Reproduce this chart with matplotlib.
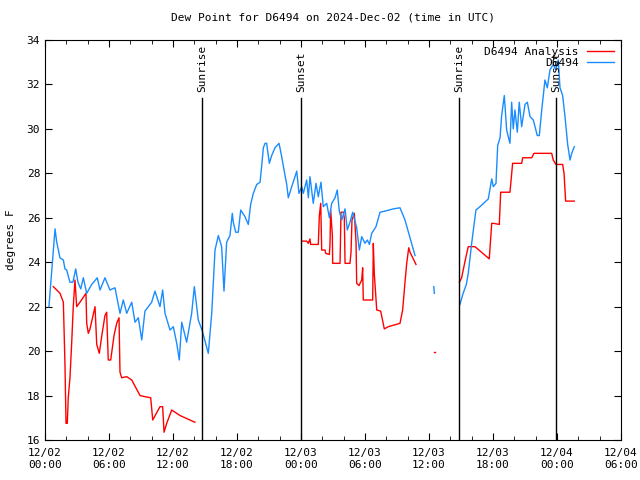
import matplotlib
matplotlib.use("Agg")
import matplotlib.pyplot as plt
import matplotlib.dates as mdates
import pandas as pd

start = pd.Timestamp("2024-12-02 00:00")

# hours after 12/02 00:00 UTC, dew point in F
obs_h = [0.37, 0.94, 1.1, 1.4, 1.72, 1.87, 2.03, 2.34, 2.62, 2.88, 3.09, 3.35, 3.59, 3.91,
         4.38, 4.9, 5.16, 5.62, 6.09, 6.56, 7.03, 7.34, 7.66, 8.13, 8.44, 8.75, 9.07, 9.37,
         10.0, 10.31, 10.78, 11.03, 11.25, 11.72, 12.03, 12.35, 12.59, 12.82, 13.28, 13.75,
         14.0, 14.37, 14.75, 15.31, 15.63, 15.94, 16.25, 16.56, 16.78, 17.03, 17.34, 17.56,
         17.65, 17.88, 18.12, 18.35, 18.75, 19.06, 19.28, 19.53, 19.85, 20.16, 20.31, 20.47,
         20.63, 20.78, 21.03, 21.25, 21.56, 21.94, 22.19, 22.41, 22.66, 22.81, 23.13, 23.44,
         23.6, 23.81, 24.07, 24.22, 24.53, 24.69, 24.84, 25.15, 25.41, 25.62, 25.87, 26.09,
         26.41, 26.66, 26.88, 27.19, 27.4, 27.59, 27.82, 28.13, 28.34, 28.59, 28.85, 29.22,
         29.47, 29.69, 30.0, 30.22, 30.41, 30.63, 31.03, 31.41, 31.87, 32.65, 33.28, 33.75,
         34.69]
obs_v = [22.0, 25.5, 24.9, 24.2, 24.1, 23.7, 23.65, 23.1, 23.1, 23.7, 23.1, 22.8, 23.3, 22.6,
         23.0, 23.3, 22.75, 23.3, 22.75, 22.85, 21.7, 22.3, 21.7, 22.2, 21.3, 21.5, 20.5, 21.8,
         22.2, 22.7, 22.0, 22.75, 21.7, 20.95, 21.1, 20.35, 19.6, 21.3, 20.4, 21.7,
         22.9, 21.4, 20.9, 19.9, 21.7, 24.55, 25.2, 24.7, 22.7, 24.9, 25.2, 26.2,
         25.8, 25.35, 25.35, 26.35, 26.05, 25.7, 26.6, 27.1, 27.5, 27.6, 28.3, 29.15,
         29.35, 29.35, 28.45, 28.8, 29.15, 29.35, 28.75, 28.15, 27.5, 26.9, 27.4, 27.85,
         28.1, 27.1, 27.4, 27.1, 27.7, 26.9, 27.85, 26.65, 27.55, 26.95, 27.6, 26.5,
         26.65, 26.0, 26.65, 26.9, 27.25, 26.3, 25.9, 26.4, 25.45, 25.8, 26.25, 25.55,
         24.55, 25.15, 24.85, 25.0, 24.8, 25.3, 25.6, 26.25, 26.3, 26.4, 26.45, 25.9,
         24.3]
obs_h2 = [36.45, 36.5]
obs_v2 = [22.9, 22.6]
obs_h3 = [38.9, 39.2, 39.5, 39.68, 40.0, 40.4, 40.78, 41.56, 41.72, 41.88, 42.03, 42.28, 42.44,
          42.66, 42.81, 43.06, 43.28, 43.43, 43.59, 43.75, 43.9, 44.06, 44.28, 44.46, 44.69,
          45.0, 45.22, 45.47, 45.78, 46.15, 46.34, 46.57, 46.87, 47.09, 47.34, 47.65, 47.88,
          48.12, 48.28, 48.53, 48.75, 49.0, 49.22, 49.38, 49.62]
obs_v3 = [22.1, 22.6, 23.0, 23.5, 24.85, 26.35, 26.5, 26.85, 27.3, 27.75, 27.4, 27.55, 29.25,
          29.6, 30.6, 31.5, 29.95, 29.65, 29.35, 31.2, 30.0, 30.85, 29.85, 31.2, 30.1,
          31.1, 31.2, 30.55, 30.4, 29.7, 29.7, 30.85, 32.2, 31.85, 32.65, 32.9, 32.65,
          33.1, 31.85, 31.5, 30.55, 29.3, 28.6, 28.9, 29.2]

ana_h = [0.78, 1.41, 1.72, 1.87, 1.97, 2.09, 2.18, 2.34, 2.5, 2.65, 2.81, 2.97, 3.28, 3.84,
         3.91, 4.06, 4.22, 4.69, 4.85, 5.09, 5.31, 5.62, 5.78, 5.93, 6.16, 6.47, 6.72, 6.94,
         7.03, 7.19, 7.66, 8.13, 8.91, 9.37, 9.91, 10.1, 10.78, 11.03, 11.16, 11.41, 11.88,
         12.66, 13.59, 14.06]
ana_v = [22.9, 22.6, 22.2, 19.45, 16.75, 16.75, 17.9, 18.8, 20.35, 22.0, 23.2, 22.0, 22.2, 22.6,
         21.25, 20.8, 21.0, 22.0, 20.3, 19.9, 20.65, 21.6, 21.75, 19.6, 19.6, 20.7, 21.25, 21.5,
         19.05, 18.8, 18.85, 18.7, 18.0, 17.95, 17.9, 16.9, 17.5, 17.5, 16.35, 16.75, 17.35,
         17.1, 16.9, 16.8]
ana_h2 = [24.07, 24.53, 24.69, 24.84, 24.91, 25.62, 25.72, 25.85, 25.94, 26.25, 26.31, 26.66,
          26.72, 26.78, 26.94, 26.97, 27.66, 27.75, 27.97, 28.06, 28.13, 28.59, 28.69, 28.78,
          29.0, 29.16, 29.22, 29.44, 29.69, 29.78, 29.84, 30.72, 30.78, 30.87, 31.1, 31.47,
          31.81, 32.18, 33.28, 33.53, 33.75, 33.91, 34.1, 34.22, 34.78]
ana_v2 = [24.95, 24.95, 24.85, 25.05, 24.8, 24.8, 26.1, 26.65, 24.55, 24.55, 24.4, 24.35,
          24.85, 26.35, 25.2, 23.95, 23.95, 26.25, 26.25, 26.0, 23.95, 23.95, 24.45, 25.9,
          26.2, 24.9, 23.05, 22.95, 23.2, 23.75, 22.3, 22.3, 24.85, 23.5, 21.85, 21.8,
          21.0, 21.1, 21.25, 21.85, 23.1, 23.95, 24.65, 24.45, 23.9]
ana_h3 = [36.47, 36.52]
ana_v3 = [19.95, 19.95]
ana_h4 = [38.85, 39.06, 39.4, 39.68, 40.31, 41.65, 41.88, 42.03, 42.59, 42.72, 43.59, 43.84,
          44.69, 44.78, 45.63, 45.84, 47.5, 47.65, 47.9, 48.53, 48.66, 48.81, 49.62]
ana_v4 = [23.1, 23.3, 24.1, 24.7, 24.7, 24.15, 25.75, 25.75, 25.7, 27.15, 27.15, 28.45,
          28.45, 28.7, 28.7, 28.9, 28.9, 28.6, 28.4, 28.4, 28.0, 26.75, 26.75]

sun_h = [14.72, 24.0, 38.81, 47.9]
sun_lbl = ["Sunrise", "Sunset", "Sunrise", "Sunset"]


def t(hours):
    return start + pd.to_timedelta(hours, unit="h")


plt.rcParams['font.family'] = ['DejaVu Sans Mono']
plt.rcParams['font.size'] = 8

fig = plt.figure(figsize=(6.4, 4.8), dpi=100)
ax = fig.add_axes([45 / 640, 40 / 480, 576 / 640, 400 / 480])

red = '#ff0000'
blue = '#1a8cff'
ax.plot(t(ana_h), ana_v, color=red, lw=1.0, label='D6494 Analysis')
ax.plot(t(ana_h2), ana_v2, color=red, lw=1.0)
ax.plot(t(ana_h3), ana_v3, color=red, lw=1.0)
ax.plot(t(ana_h4), ana_v4, color=red, lw=1.0)
ax.plot(t(obs_h), obs_v, color=blue, lw=1.0, label='D6494')
ax.plot(t(obs_h2), obs_v2, color=blue, lw=1.0)
ax.plot(t(obs_h3), obs_v3, color=blue, lw=1.0)

for h, lbl in zip(sun_h, sun_lbl):
    ax.plot([t(h), t(h)], [16, 31.4], color='black', lw=1.0)
    ax.text(t(h), 31.65, lbl, rotation=90, ha='center', va='bottom', fontsize=8)

ax.set_xlim(start, start + pd.Timedelta(hours=54))
ax.set_ylim(16, 34)
ax.set_yticks(range(16, 35, 2))
ax.xaxis.set_major_locator(mdates.HourLocator(byhour=range(0, 24, 6)))
ax.xaxis.set_minor_locator(mdates.HourLocator(byhour=range(0, 24, 2)))
ax.xaxis.set_major_formatter(mdates.DateFormatter('%m/%d\n%H:%M'))
ax.tick_params(direction='in', top=True, right=True, which='both')
ax.tick_params(which='major', length=5)
ax.tick_params(which='minor', length=3)
ax.tick_params(axis='x', pad=6)

ax.set_ylabel('degrees F', labelpad=8)
ax.set_title('Dew Point for D6494 on 2024-Dec-02 (time in UTC)', fontsize=8, pad=14)

ax.legend(loc='upper right', frameon=False, markerfirst=False, handlelength=2.5,
          handletextpad=0.7, borderaxespad=0.4, borderpad=0.2, labelspacing=0.15,
          fontsize=8)

fig.savefig('out.png', dpi=100)
